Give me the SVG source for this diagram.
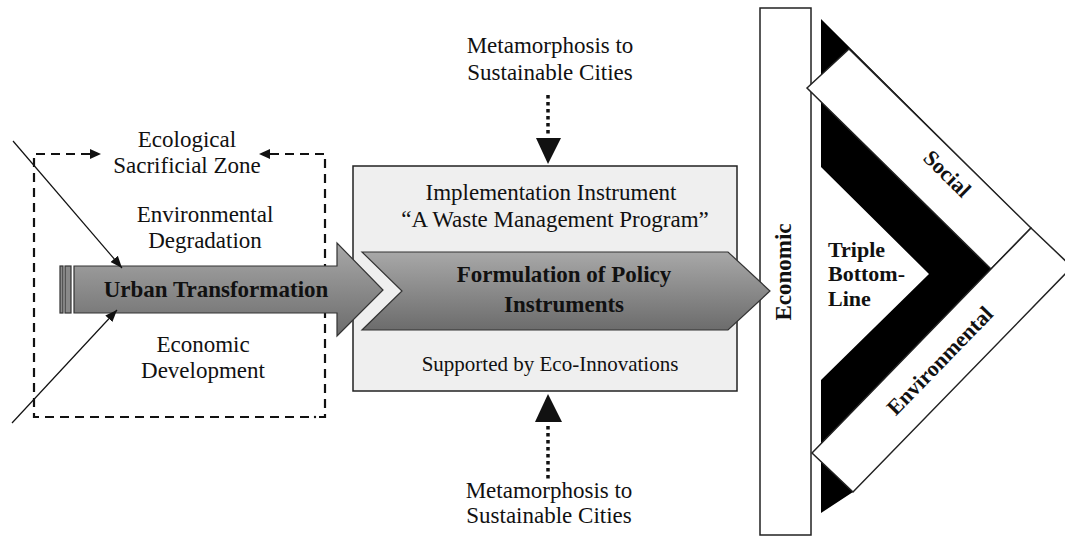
<svg xmlns="http://www.w3.org/2000/svg" width="1065" height="536" viewBox="0 0 1065 536">
  <defs>
    <style>
      .t { font-family: "Liberation Serif", "Times New Roman", serif; font-size: 23px; fill: #111; text-anchor: middle; }
      .b { font-weight: bold; }
      .s { text-anchor: start; }
      .f22 { font-size: 22px; }
      .f21 { font-size: 21px; }
      .dash { fill: none; stroke: #111; stroke-width: 2.2; stroke-dasharray: 9 6; }
      .thin { fill: none; stroke: #111; stroke-width: 1.2; }
      .dot { fill: none; stroke: #111; stroke-width: 3.5; stroke-dasharray: 3.5 3.5; }
      .arrowbody { stroke: #333; stroke-width: 1.2; }
      .band { fill: #fff; stroke: #222; stroke-width: 1.5; stroke-linejoin: miter; }
    </style>
    <linearGradient id="grey" x1="0" y1="0" x2="0" y2="1">
      <stop offset="0" stop-color="#a8a8a8"/>
      <stop offset="1" stop-color="#6c6c6c"/>
    </linearGradient>
    <marker id="headS" viewBox="0 0 10 10" refX="10" refY="5" markerWidth="12" markerHeight="12" markerUnits="userSpaceOnUse" orient="auto">
      <path d="M0,1 L10,5 L0,9 Z" fill="#111"/>
    </marker>
  </defs>

  <rect width="1065" height="536" fill="#fff"/>

  <!-- left zone: dashed frame with its labels -->
  <g id="sacrificial-zone">
    <path class="dash" d="M90,154 L34,154 L34,417 L312,417"/>
    <path class="dash" d="M270,154 L325,154 L325,417 L318,417"/>
    <circle cx="315" cy="417" r="1.2" fill="#111"/>
    <path d="M90,149 L101,154 L90,159 Z" fill="#111"/>
    <path d="M270,149 L259,154 L270,159 Z" fill="#111"/>
    <text class="t" x="187" y="147">Ecological</text>
    <text class="t" x="187" y="173">Sacrificial Zone</text>
  </g>

  <g id="environmental-degradation">
    <text class="t" x="205" y="222">Environmental</text>
    <text class="t" x="205" y="248">Degradation</text>
  </g>

  <g id="economic-development">
    <text class="t" x="203" y="352">Economic</text>
    <text class="t" x="203" y="378">Development</text>
  </g>

  <!-- central box -->
  <g id="policy-box">
    <rect x="353" y="166" width="384" height="225" fill="#efefef" stroke="#222" stroke-width="1.5"/>
    <text class="t" x="551" y="200">Implementation Instrument</text>
    <text class="t" x="555" y="227">“A Waste Management Program”</text>
    <text class="t f21" x="550" y="371">Supported by Eco-Innovations</text>
  </g>

  <!-- economic pillar -->
  <g id="economic">
    <rect x="760" y="8" width="51" height="527" fill="#fff" stroke="#222" stroke-width="1.5"/>
    <text class="t b" transform="translate(791,272) rotate(-90)">Economic</text>
  </g>

  <!-- triple bottom line -->
  <g id="triple-bottom-line">
    <polygon points="821,19 1031,228 991,269 853,492 821,513 821,380 929,274 821,167" fill="#000"/>
    <polygon class="band" points="807,88 849,49 1031,228 991,269"/>
    <polygon class="band" points="812,453 991,269 1031,228 1072,267 853,492"/>
    <text class="t b s f22" x="828" y="257">Triple</text>
    <text class="t b s f22" x="828" y="281">Bottom-</text>
    <text class="t b s f22" x="828" y="306">Line</text>
  </g>
  <g id="social">
    <text class="t b f22" transform="translate(947,174) rotate(44.5)" y="7">Social</text>
  </g>
  <g id="environmental">
    <text class="t b f22" transform="translate(940,361) rotate(-45.8)" y="7">Environmental</text>
  </g>

  <!-- arrows -->
  <g id="formulation">
    <polygon class="arrowbody" points="362,252 728,252 770,291 728,330 362,330 402,291" fill="url(#grey)"/>
    <text class="t b" x="564" y="282">Formulation of Policy</text>
    <text class="t b" x="564" y="312">Instruments</text>
  </g>

  <g id="urban-transformation">
    <rect class="arrowbody" x="60" y="266" width="3" height="47" fill="#8a8a8a"/>
    <rect class="arrowbody" x="65" y="266" width="6" height="47" fill="#8a8a8a"/>
    <polygon class="arrowbody" points="74,266 337,266 337,243 383,290 337,336 337,313 74,313" fill="url(#grey)"/>
    <text class="t b" x="216" y="297">Urban Transformation</text>
  </g>

  <g id="connectors">
    <line class="thin" x1="13" y1="141" x2="122" y2="268" marker-end="url(#headS)"/>
    <line class="thin" x1="12" y1="423" x2="117" y2="310" marker-end="url(#headS)"/>
    <line class="dot" x1="548" y1="95" x2="548" y2="136"/>
    <polygon points="536,138 561,138 548,164" fill="#111"/>
    <line class="dot" x1="548" y1="426" x2="548" y2="480"/>
    <polygon points="535,422 562,422 548,394" fill="#111"/>
  </g>

  <g id="metamorphosis-top">
    <text class="t" x="550" y="53">Metamorphosis to</text>
    <text class="t" x="550" y="80">Sustainable Cities</text>
  </g>
  <g id="metamorphosis-bottom">
    <text class="t" x="549" y="498">Metamorphosis to</text>
    <text class="t" x="549" y="523">Sustainable Cities</text>
  </g>
</svg>
